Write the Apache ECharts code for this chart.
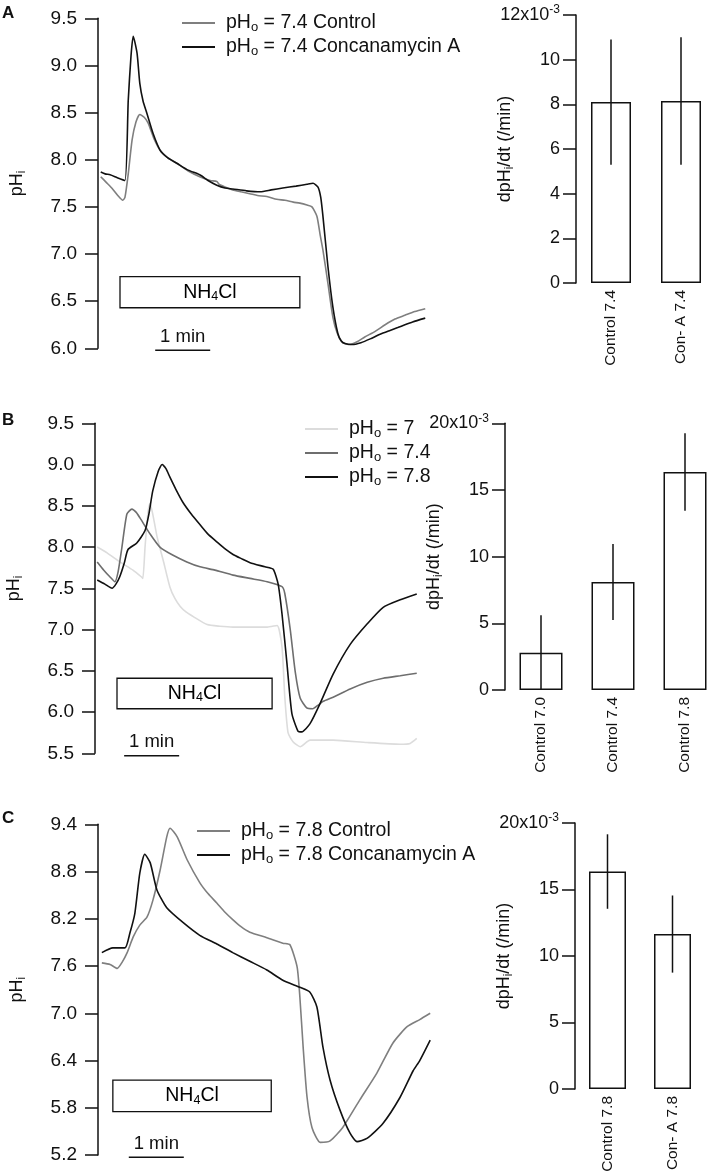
<!DOCTYPE html>
<html>
<head>
<meta charset="utf-8">
<title>pHi recovery after NH4Cl prepulse</title>
<script src="https://cdn.jsdelivr.net/npm/echarts@6.0.0/dist/echarts.min.js"></script>
<style>
html,body{margin:0;padding:0;background:#ffffff;}
#chart{width:709px;height:1173px;}
</style>
</head>
<body>
<div id="chart"></div>
<script>
// ---------- Panel A traces: [time (min), pHi]
const traceA_control = [[0.05,7.82],[0.15,7.76],[0.25,7.70],[0.36,7.62],[0.45,7.57],[0.49,7.60],[0.55,7.85],[0.62,8.21],[0.69,8.40],[0.76,8.48],[0.84,8.45],[0.91,8.39],[1.02,8.22],[1.13,8.10],[1.27,8.02],[1.44,7.96],[1.64,7.88],[1.85,7.82],[2.04,7.78],[2.16,7.77],[2.2,7.74],[2.31,7.71],[2.45,7.68],[2.6,7.66],[2.76,7.64],[2.9,7.62],[3.07,7.61],[3.25,7.58],[3.4,7.57],[3.55,7.55],[3.67,7.54],[3.8,7.52],[3.89,7.50],[3.98,7.40],[4.04,7.20],[4.09,7.04],[4.18,6.69],[4.27,6.33],[4.35,6.16],[4.45,6.06],[4.58,6.04],[4.71,6.07],[4.85,6.12],[5.04,6.18],[5.22,6.25],[5.40,6.31],[5.58,6.35],[5.76,6.39],[5.95,6.42]];
const traceA_conA = [[0.05,7.87],[0.13,7.85],[0.22,7.84],[0.35,7.81],[0.49,7.78],[0.55,8.63],[0.60,9.10],[0.64,9.31],[0.71,9.13],[0.76,8.81],[0.82,8.62],[0.89,8.49],[1.0,8.28],[1.13,8.10],[1.27,8.02],[1.44,7.96],[1.64,7.89],[1.85,7.84],[2.0,7.78],[2.16,7.73],[2.31,7.70],[2.45,7.69],[2.7,7.67],[2.95,7.66],[3.15,7.68],[3.36,7.70],[3.6,7.72],[3.8,7.74],[3.91,7.75],[4.0,7.71],[4.05,7.60],[4.09,7.40],[4.18,6.87],[4.27,6.44],[4.36,6.16],[4.42,6.08],[4.49,6.05],[4.62,6.04],[4.78,6.06],[4.95,6.10],[5.13,6.15],[5.31,6.19],[5.45,6.22],[5.58,6.25],[5.72,6.28],[5.95,6.32]];

// ---------- Panel B traces: [time (min), pHi]
const traceB_ph70 = [[0.04,8.00],[0.22,7.93],[0.45,7.82],[0.69,7.72],[0.84,7.64],[0.87,7.62],[0.91,8.00],[0.96,8.40],[1.0,8.53],[1.05,8.40],[1.13,8.12],[1.24,7.84],[1.36,7.52],[1.45,7.38],[1.55,7.28],[1.66,7.21],[1.78,7.16],[2.04,7.06],[2.27,7.04],[2.51,7.03],[2.82,7.03],[3.13,7.03],[3.31,7.05],[3.40,6.79],[3.45,6.19],[3.51,5.75],[3.60,5.64],[3.73,5.58],[3.91,5.66],[4.33,5.66],[4.95,5.63],[5.55,5.61],[5.73,5.62],[5.85,5.68]];
const traceB_ph74 = [[0.04,7.82],[0.16,7.72],[0.27,7.64],[0.36,7.58],[0.42,7.70],[0.49,8.00],[0.58,8.40],[0.67,8.46],[0.75,8.42],[0.82,8.35],[1.0,8.16],[1.18,8.00],[1.42,7.90],[1.67,7.82],[1.91,7.76],[2.18,7.72],[2.51,7.66],[2.82,7.62],[3.13,7.58],[3.40,7.52],[3.45,7.44],[3.55,7.00],[3.64,6.49],[3.73,6.17],[3.85,6.05],[3.96,6.04],[4.05,6.08],[4.15,6.13],[4.33,6.18],[4.64,6.28],[4.95,6.36],[5.24,6.41],[5.55,6.44],[5.85,6.47]];
const traceB_ph78 = [[0.04,7.60],[0.18,7.55],[0.31,7.50],[0.38,7.55],[0.45,7.64],[0.53,7.80],[0.60,7.97],[0.76,8.05],[0.91,8.20],[0.98,8.40],[1.05,8.68],[1.15,8.92],[1.22,9.00],[1.29,8.95],[1.36,8.85],[1.47,8.70],[1.60,8.54],[1.75,8.40],[1.91,8.27],[2.05,8.16],[2.22,8.06],[2.36,7.98],[2.51,7.91],[2.66,7.86],[2.82,7.81],[3.09,7.76],[3.24,7.73],[3.33,7.55],[3.40,7.19],[3.49,6.59],[3.58,5.98],[3.69,5.77],[3.76,5.76],[3.91,5.86],[4.09,6.10],[4.33,6.46],[4.64,6.82],[4.95,7.07],[5.24,7.27],[5.55,7.36],[5.85,7.43]];

// ---------- Panel C traces: [time (min), pHi]
const traceC_control = [[0.07,7.64],[0.22,7.62],[0.35,7.57],[0.44,7.65],[0.53,7.77],[0.64,7.97],[0.76,8.12],[0.89,8.22],[1.0,8.44],[1.13,8.82],[1.25,9.24],[1.31,9.35],[1.44,9.24],[1.62,8.95],[1.85,8.66],[2.0,8.52],[2.16,8.40],[2.3,8.29],[2.45,8.19],[2.6,8.10],[2.76,8.03],[3.07,7.96],[3.36,7.89],[3.49,7.87],[3.62,7.59],[3.67,7.21],[3.73,6.57],[3.80,5.94],[3.89,5.55],[4.04,5.36],[4.22,5.38],[4.45,5.55],[4.76,5.90],[5.07,6.24],[5.36,6.62],[5.62,6.83],[5.85,6.92],[6.04,7.00]];
const traceC_conA = [[0.07,7.77],[0.27,7.83],[0.49,7.83],[0.58,8.02],[0.67,8.27],[0.76,8.78],[0.85,9.02],[0.95,8.91],[1.07,8.57],[1.25,8.34],[1.55,8.15],[1.85,7.99],[2.16,7.88],[2.45,7.77],[2.76,7.66],[3.07,7.55],[3.36,7.42],[3.67,7.33],[3.85,7.27],[3.98,7.08],[4.09,6.57],[4.22,6.15],[4.40,5.77],[4.58,5.48],[4.71,5.37],[4.89,5.41],[5.18,5.60],[5.49,5.93],[5.73,6.27],[5.85,6.40],[6.04,6.66]];

// NH4Cl application boxes: [t start, t end, pH low, pH high]
const nh4clA = [0.40, 3.67, 6.43, 6.76];
const nh4clB = [0.40, 3.22, 6.04, 6.41];
const nh4clC = [0.27, 3.15, 5.75, 6.15];
// 1-min scale bars: [t start, t end, pH level]
const scaleA = [1.04, 2.04, 5.98];
const scaleB = [0.53, 1.53, 5.47];
const scaleC = [0.56, 1.56, 5.17];

// pHi axis ticks
const yTicksA = [6.0, 6.5, 7.0, 7.5, 8.0, 8.5, 9.0, 9.5];
const yTicksB = [5.5, 6.0, 6.5, 7.0, 7.5, 8.0, 8.5, 9.0, 9.5];
const yTicksC = [5.2, 5.8, 6.4, 7.0, 7.6, 8.2, 8.8, 9.4];

// Bar charts: dpHi/dt (/min), mean and error
const barCatsA = ['Control 7.4', 'Con- A 7.4'];
const barMeanA = [0.0081, 0.00815];
const barErrA  = [0.0028, 0.00285];
const barCatsB = ['Control 7.0', 'Control 7.4', 'Control 7.8'];
const barMeanB = [0.0028, 0.0081, 0.01635];
const barErrB  = [0.0028, 0.00285, 0.00290];
const barCatsC = ['Control 7.8', 'Con- A 7.8'];
const barMeanC = [0.01635, 0.01165];
const barErrC  = [0.0028, 0.0029];
const barTicksA = [0, 0.002, 0.004, 0.006, 0.008, 0.010, 0.012];
const barTicksB = [0, 0.005, 0.010, 0.015, 0.020];
const barTicksC = [0, 0.005, 0.010, 0.015, 0.020];

// ---------- styling
const FONT = "'Liberation Sans', Arial, Helvetica, sans-serif";
const INK = '#111111';
const GREY = '#7f7f7f';
const GREY_MID = '#6e6e6e';
const GREY_LIGHT = '#dcdcdc';
const T_MAX = 6.2;      // minutes shown on each trace panel
const PX_PER_MIN = 55;

const richBase = {
  f: {fontSize: 18, fontFamily: FONT, color: INK, lineHeight: 22, padding: [0, 0, 0, 6]},
  n: {fontSize: 18, fontFamily: FONT, color: INK, lineHeight: 22},
  s: {fontSize: 12, fontFamily: FONT, color: INK, lineHeight: 12, verticalAlign: 'bottom'},
  p: {fontSize: 12, fontFamily: FONT, color: INK, lineHeight: 12, verticalAlign: 'top'}
};
const richLegend = {
  f: {fontSize: 19.5, fontFamily: FONT, color: INK, lineHeight: 22, padding: [0, 0, 0, 6]},
  n: {fontSize: 19.5, fontFamily: FONT, color: INK, lineHeight: 22},
  s: {fontSize: 13, fontFamily: FONT, color: INK, lineHeight: 12, verticalAlign: 'bottom'}
};
const richBox = {
  n: {fontSize: 19.5, fontFamily: FONT, color: INK, lineHeight: 22},
  s: {fontSize: 12.5, fontFamily: FONT, color: INK, lineHeight: 12, verticalAlign: 'bottom'}
};

const chart = echarts.init(document.getElementById('chart'), null, {renderer: 'canvas'});

const W = T_MAX * PX_PER_MIN;
const grids = [
  {left: 98,  top: 18.3,  width: W,   height: 330},
  {left: 576, top: 15,    width: 140, height: 268},
  {left: 95,  top: 423.3, width: W,   height: 330},
  {left: 505, top: 423.3, width: 216, height: 266.7},
  {left: 98,  top: 824.3, width: W,   height: 330.7},
  {left: 575, top: 823,   width: 130, height: 266}
].map(g => Object.assign({containLabel: false, outerBoundsMode: 'none'}, g));

function lineY(grid, ticks, interval) {
  const lo = ticks[0], hi = ticks[ticks.length - 1];
  return {
    type: 'value', gridIndex: grid, min: lo, max: hi, interval: interval,
    axisLine: {show: true, onZero: false, lineStyle: {color: INK, width: 1.5}},
    axisTick: {show: true, inside: false, length: 13, lineStyle: {color: INK, width: 1.5}, customValues: ticks},
    axisLabel: {fontSize: 19, fontFamily: FONT, color: INK, margin: 21, customValues: ticks,
      formatter: v => Number(v).toFixed(1)},
    splitLine: {show: false},
    name: '{n|pH}{s|i}', nameLocation: 'middle', nameRotate: 90, nameGap: 70,
    nameMoveOverlap: false,
    nameTextStyle: {rich: richBase}
  };
}
function barY(grid, ticks, interval) {
  const lo = ticks[0], hi = ticks[ticks.length - 1];
  return {
    type: 'value', gridIndex: grid, min: lo, max: hi, interval: interval,
    axisLine: {show: true, lineStyle: {color: INK, width: 1.5}},
    axisTick: {show: true, inside: false, length: 13, lineStyle: {color: INK, width: 1.5}},
    axisLabel: {fontSize: 18, fontFamily: FONT, color: INK, margin: 16, rich: richBase,
      formatter: v => {
        const k = Math.round(v * 1000);
        return Math.abs(v - hi) < 1e-9 ? '{n|' + k + 'x10}{p|-3}' : String(k);
      }},
    splitLine: {show: false},
    name: '{n|dpH}{s|i}{n|/dt (/min)}', nameLocation: 'middle', nameRotate: 90, nameGap: 60,
    nameMoveOverlap: false,
    nameTextStyle: {rich: richBase}
  };
}
function lineX(grid) {
  return {type: 'value', gridIndex: grid, min: 0, max: T_MAX, show: false};
}
function barX(grid, cats) {
  return {
    type: 'category', gridIndex: grid, data: cats,
    axisLine: {show: false}, axisTick: {show: false},
    axisLabel: {rotate: 90, fontSize: 15.5, fontFamily: FONT, color: INK, margin: 7, interval: 0}
  };
}

function trace(name, idx, data, color) {
  return {
    type: 'line', name: name, xAxisIndex: idx, yAxisIndex: idx, data: data,
    symbol: 'none', showSymbol: false, smooth: 0.2, clip: false,
    lineStyle: {color: color, width: 1.6}, itemStyle: {color: color},
    emphasis: {disabled: true}, z: 3
  };
}
function bars(idx, means, width) {
  return {
    type: 'bar', xAxisIndex: idx, yAxisIndex: idx, data: means, barWidth: width,
    itemStyle: {color: '#ffffff', borderColor: INK, borderWidth: 1.5},
    emphasis: {disabled: true}, z: 2
  };
}
function errorBars(idx, means, errs) {
  return {
    type: 'custom', xAxisIndex: idx, yAxisIndex: idx, z: 4, clip: false,
    data: means.map((m, i) => [i, Math.max(0, m - errs[i]), m + errs[i]]),
    encode: {x: 0, y: [1, 2]},
    renderItem: (params, api) => {
      const i = api.value(0);
      const a = api.coord([i, api.value(1)]);
      const b = api.coord([i, api.value(2)]);
      return {type: 'line', shape: {x1: a[0], y1: a[1], x2: b[0], y2: b[1]},
        style: {stroke: INK, lineWidth: 1.5}};
    }
  };
}
function nh4clBox(idx, box) {
  return {
    type: 'custom', xAxisIndex: idx, yAxisIndex: idx, z: 5, clip: false,
    data: [box], encode: {x: [0, 1], y: [2, 3]},
    renderItem: (params, api) => {
      const tl = api.coord([api.value(0), api.value(3)]);
      const br = api.coord([api.value(1), api.value(2)]);
      return {type: 'group', children: [
        {type: 'rect', shape: {x: tl[0], y: tl[1], width: br[0] - tl[0], height: br[1] - tl[1]},
          style: {fill: '#ffffff', stroke: INK, lineWidth: 1.3}},
        {type: 'text', x: (tl[0] + br[0]) / 2, y: (tl[1] + br[1]) / 2,
          style: {text: '{n|NH}{s|4}{n|Cl}', rich: richBox, align: 'center', verticalAlign: 'middle'}}
      ]};
    }
  };
}
function scaleBar(idx, sb) {
  return {
    type: 'custom', xAxisIndex: idx, yAxisIndex: idx, z: 5, clip: false,
    data: [sb], encode: {x: [0, 1], y: [2]},
    renderItem: (params, api) => {
      const a = api.coord([api.value(0), api.value(2)]);
      const b = api.coord([api.value(1), api.value(2)]);
      return {type: 'group', children: [
        {type: 'line', shape: {x1: a[0], y1: a[1], x2: b[0], y2: b[1]},
          style: {stroke: INK, lineWidth: 1.5}},
        {type: 'text', x: (a[0] + b[0]) / 2, y: a[1] - 4,
          style: {text: '1 min', fontSize: 18.5, fontFamily: FONT, fill: INK, align: 'center', verticalAlign: 'bottom'}}
      ]};
    }
  };
}

const legendFmt = name => '{f|pH}{s|o}{n|' + name.slice(3) + '}';
function legend(left, top, names) {
  return {
    left: left, top: top, orient: 'vertical', padding: 0, itemGap: 3,
    icon: 'rect', itemWidth: 33, itemHeight: 2, selectedMode: false, data: names,
    formatter: legendFmt, textStyle: {rich: richLegend, fontSize: 19.5, color: INK}
  };
}

const nA1 = 'pHo = 7.4 Control', nA2 = 'pHo = 7.4 Concanamycin A';
const nB1 = 'pHo = 7', nB2 = 'pHo = 7.4', nB3 = 'pHo = 7.8';
const nC1 = 'pHo = 7.8 Control', nC2 = 'pHo = 7.8 Concanamycin A';

const option = {
  animation: false,
  backgroundColor: '#ffffff',
  textStyle: {fontFamily: FONT},
  grid: grids,
  xAxis: [lineX(0), barX(1, barCatsA), lineX(2), barX(3, barCatsB), lineX(4), barX(5, barCatsC)],
  yAxis: [
    lineY(0, yTicksA, 0.5), barY(1, barTicksA, 0.002),
    lineY(2, yTicksB, 0.5), barY(3, barTicksB, 0.005),
    lineY(4, yTicksC, 0.6), barY(5, barTicksC, 0.005)
  ],
  legend: [
    legend(182, 13, [nA1, nA2]),
    legend(305, 419, [nB1, nB2, nB3]),
    legend(197, 821, [nC1, nC2])
  ],
  graphic: [
    {type: 'text', left: 2, top: 5, style: {text: 'A', font: 'bold 17px ' + FONT, fill: INK}},
    {type: 'text', left: 2, top: 412, style: {text: 'B', font: 'bold 17px ' + FONT, fill: INK}},
    {type: 'text', left: 2, top: 810, style: {text: 'C', font: 'bold 17px ' + FONT, fill: INK}}
  ],
  series: [
    trace(nA1, 0, traceA_control, GREY),
    trace(nA2, 0, traceA_conA, INK),
    nh4clBox(0, nh4clA), scaleBar(0, scaleA),
    bars(1, barMeanA, 40), errorBars(1, barMeanA, barErrA),

    trace(nB1, 2, traceB_ph70, GREY_LIGHT),
    trace(nB2, 2, traceB_ph74, GREY_MID),
    trace(nB3, 2, traceB_ph78, INK),
    nh4clBox(2, nh4clB), scaleBar(2, scaleB),
    bars(3, barMeanB, 43), errorBars(3, barMeanB, barErrB),

    trace(nC1, 4, traceC_control, GREY),
    trace(nC2, 4, traceC_conA, INK),
    nh4clBox(4, nh4clC), scaleBar(4, scaleC),
    bars(5, barMeanC, 37), errorBars(5, barMeanC, barErrC)
  ]
};
chart.setOption(option);
</script>
</body>
</html>
